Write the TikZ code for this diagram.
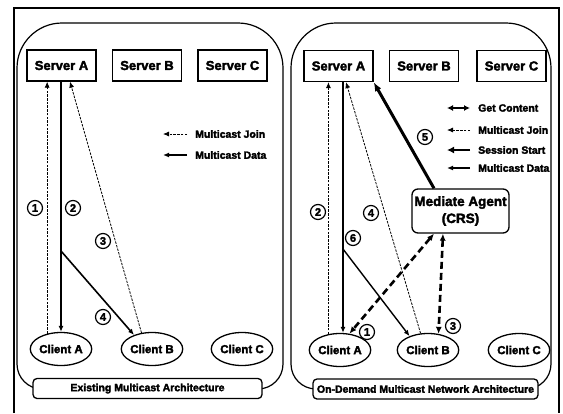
\documentclass[tikz,border=0pt]{standalone}
\usepackage{fontspec}
\setmainfont{Liberation Sans}[BoldFeatures={FakeBold=2.5}]
\usetikzlibrary{arrows.meta,calc,shapes.geometric}

\begin{document}
\begin{tikzpicture}[x=1pt,y=-1pt,
  server/.style={draw, line width=1.3pt, minimum width=69pt, minimum height=31pt, inner sep=0pt, font=\bfseries\fontsize{13}{15}\selectfont},
  client/.style={draw, ellipse, line width=1.3pt, minimum width=53pt, minimum height=33pt, inner sep=0pt, font=\bfseries\fontsize{11.5}{13}\selectfont},
  panel/.style={line width=1.2pt},
  caption/.style={draw, fill=white, rounded corners=4pt, line width=1.3pt, minimum height=20pt, inner sep=2pt, font=\bfseries\fontsize{10.5}{12}\selectfont},
  agent/.style={draw, rounded corners=6pt, line width=1.3pt, minimum width=97pt, minimum height=44pt, inner sep=0pt, align=center, font=\bfseries\fontsize{13.5}{17}\selectfont},
  num/.style={draw, circle, line width=1.2pt, minimum size=15pt, inner sep=0pt, font=\bfseries\fontsize{11}{11}\selectfont},
  legend/.style={anchor=west, inner sep=0pt, font=\bfseries\fontsize{10.5}{12}\selectfont},
  tip/.style={-{Latex[length=6pt,width=5pt]}},
  mjoin/.style={tip, line width=0.8pt, dash pattern=on 2.5pt off 1.2pt},
  mdata/.style={tip, line width=1.6pt},
  session/.style={-{Latex[length=9pt,width=7pt]}, line width=3pt},
  content/.style={{Latex[length=7pt,width=6pt]}-{Latex[length=7pt,width=6pt]}, line width=2.6pt, dash pattern=on 7pt off 4pt},
  getc/.style={{Latex[length=6pt,width=6pt]}-{Latex[length=6pt,width=6pt]}, line width=2.4pt},
]
\useasboundingbox (0,0) rectangle (563,413);

% outer frame
\draw[line width=1.2pt] (14,413) -- (14,8) -- (559,8) -- (559,413);

% panels
\draw[panel] (17,68) .. controls (17,43.15) and (37.15,23) .. (62,23) -- (238,23)
  .. controls (262.85,23) and (283,43.15) .. (283,68) -- (283,364)
  .. controls (283,377.8) and (271.8,389) .. (258,389) -- (42,389)
  .. controls (28.2,389) and (17,377.8) .. (17,364) -- cycle;
\draw[panel] (291,68) .. controls (291,43.15) and (311.15,23) .. (336,23) -- (506,23)
  .. controls (530.85,23) and (551,43.15) .. (551,68) -- (551,364)
  .. controls (551,377.8) and (539.8,389) .. (526,389) -- (316,389)
  .. controls (302.2,389) and (291,377.8) .. (291,364) -- cycle;

\node[caption, minimum width=229pt] (capL) at (147.5,388.5) {Existing Multicast Architecture};
\node[caption, minimum width=225pt] (capR) at (425.5,389) {On-Demand Multicast Network Architecture};

% ---------- existing architecture ----------
\node[server] (sAL) at (61.5,65.5) {Server A};
\node[server] (sBL) at (147,65.5) {Server B};
\node[server] (sCL) at (232.5,65.5) {Server C};
\node[client] (cAL) at (61,349) {Client A};
\node[client] (cBL) at (152,349) {Client B};
\node[client] (cCL) at (242,349) {Client C};
\coordinate (bL) at (61,251);

\draw[mjoin] (cAL.132) -- (cAL.132 |- sAL.south);
\draw[mdata] (cAL.north |- sAL.south) -- (cAL.north);
\draw[mjoin] (cBL.123) -- ([xshift=8.5pt]sAL.south);
\draw[mdata] (bL) -- (cBL.142);

\node[num] (n1L) at (35,208) {1};
\node[num] (n2L) at (73,208) {2};
\node[num] (n3L) at (103,241) {3};
\node[num] (n4L) at (103,317) {4};

\node[legend] (lgJL) at (195,134) {Multicast Join};
\node[legend] (lgDL) at (195,155) {Multicast Data};
\draw[mjoin] ([xshift=-8pt]lgJL.west) -- ([xshift=-32pt]lgJL.west);
\draw[mdata] ([xshift=-8pt]lgDL.west) -- ([xshift=-32pt]lgDL.west);

% ---------- on-demand architecture ----------
\node[server] (sAR) at (338.5,66) {Server A};
\node[server] (sBR) at (424,66) {Server B};
\node[server] (sCR) at (511.5,66) {Server C};
\node[client] (cAR) at (340,350) {Client A};
\node[client] (cBR) at (428,350) {Client B};
\node[client] (cCR) at (519,350) {Client C};
\node[agent] (med) at (460.5,211) {Mediate Agent\\(CRS)};
\coordinate (bR) at (343,249);

\draw[mjoin] (cAR.126) -- (cAR.126 |- sAR.south);
\draw[mdata] (bR |- sAR.south) -- (bR |- cAR.north);
\draw[mdata, line width=1.4pt] (bR) -- (cBR.143.6);
\draw[mjoin] (cBR.114) -- ([xshift=7.5pt]sAR.south);
\draw[session] ([xshift=-26.5pt]med.north) -- (sAR.south east);
\draw[content] ([xshift=-26.5pt]med.south) -- (cAR.60);
\draw[content] ([xshift=-17.5pt]med.south) -- (cBR.57);

\node[num] (n2R) at (318,212) {2};
\node[num] (n4R) at (371,213) {4};
\node[num] (n6R) at (353,238) {6};
\node[num] (n5R) at (425,137) {5};
\node[num] (n1R) at (367,332) {1};
\node[num] (n3R) at (453,326) {3};

\node[legend] (lgGR) at (478,108) {Get Content};
\node[legend] (lgJR) at (478,130) {Multicast Join};
\node[legend] (lgSR) at (478,150) {Session Start};
\node[legend] (lgDR) at (478,168) {Multicast Data};
\draw[getc] ([xshift=-8pt]lgGR.west) -- ([xshift=-31pt]lgGR.west);
\draw[mjoin] ([xshift=-8pt]lgJR.west) -- ([xshift=-31pt]lgJR.west);
\draw[session, line width=2.8pt, -{Latex[length=7pt,width=7pt]}] ([xshift=-8pt]lgSR.west) -- ([xshift=-31pt]lgSR.west);
\draw[mdata, line width=1.2pt] ([xshift=-8pt]lgDR.west) -- ([xshift=-31pt]lgDR.west);
\end{tikzpicture}
\end{document}
